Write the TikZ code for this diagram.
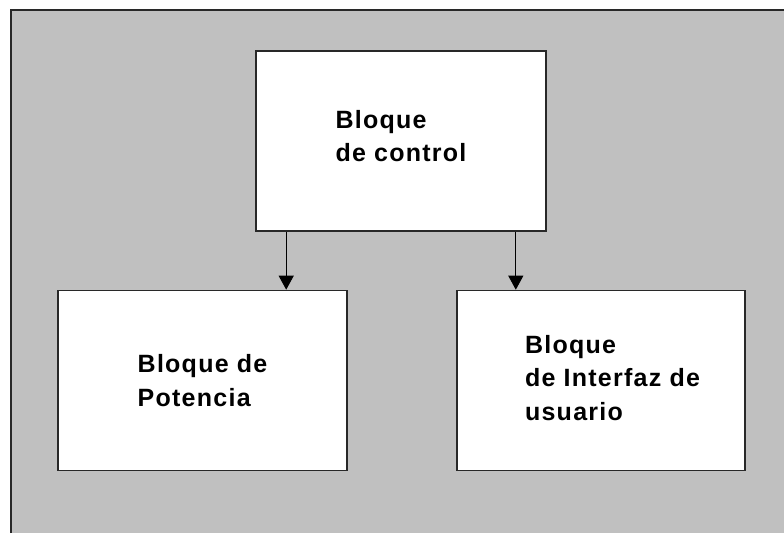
\documentclass[tikz,border=0pt]{standalone}
\usepackage{fontspec}
\setmainfont{Liberation Sans}
\usepackage{xcolor}
\usetikzlibrary{arrows.meta,positioning}
\definecolor{fondo}{RGB}{192,192,192}
\definecolor{borde}{RGB}{40,40,40}
\tikzset{bloque/.style={draw=borde,line width=1.6pt,fill=white,minimum width=290pt,minimum height=180pt,align=left,
  font=\fontsize{25}{33.5}\selectfont\bfseries\addfontfeature{LetterSpace=5}},
flecha/.style={line width=1pt,-{Triangle[length=14pt,width=15pt]}}}

\begin{document}
\begin{tikzpicture}[x=1pt,y=-1pt]
\useasboundingbox (0,0) rectangle (784,533);
\fill[fondo] (11,10) rectangle (784,533);
\draw[borde,line width=1.6pt] (11,533) -- (11,10) -- (784,10);

\node[bloque,text depth=10pt] (control) at (401,141) {Bloque\\de control};
\node[bloque,minimum width=289pt] (potencia) at (202.5,380.5) {Bloque de\\Potencia};
\node[bloque,minimum width=288pt,text depth=6pt] (interfaz) at (601,380.5) {\hspace*{23pt}Bloque\\\hspace*{23pt}de Interfaz de\\\hspace*{23pt}usuario};

\coordinate (s1) at ([xshift=31pt]control.south west);
\coordinate (s2) at ([xshift=-31pt]control.south east);
\draw[flecha] (s1) -- (s1 |- potencia.north);
\draw[flecha] (s2) -- (s2 |- interfaz.north);
\end{tikzpicture}
\end{document}
